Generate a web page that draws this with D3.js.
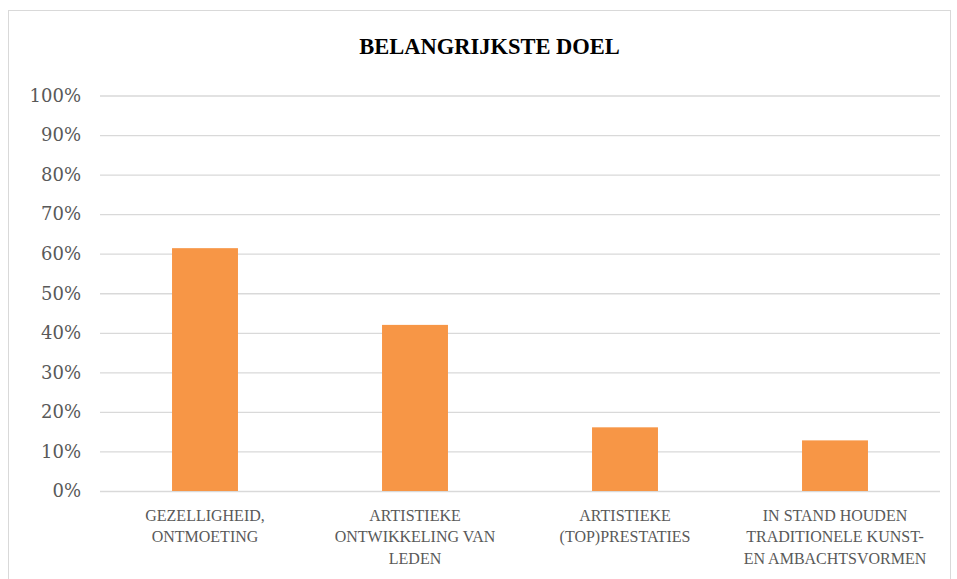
<!DOCTYPE html>
<html>
<head>
<meta charset="utf-8">
<script src="https://cdn.jsdelivr.net/npm/d3@7"></script>
<style>
  body { margin: 0; background: #fff; }
  svg { display: block; }
</style>
</head>
<body>
<div id="chart"></div>
<script>
(function () {
    // data
    const categories = [
        "GEZELLIGHEID,\nONTMOETING",
        "ARTISTIEKE\nONTWIKKELING VAN\nLEDEN",
        "ARTISTIEKE\n(TOP)PRESTATIES",
        "IN STAND HOUDEN\nTRADITIONELE KUNST-\nEN AMBACHTSVORMEN"
    ];
    const values = [0.614, 0.42, 0.161, 0.128];
    const yTicks = [0, 0.1, 0.2, 0.3, 0.4, 0.5, 0.6, 0.7, 0.8, 0.9, 1.0];
    const title = "BELANGRIJKSTE DOEL";

    const W = 957, H = 579;
    const margin = { top: 95.5, right: 17, bottom: 88, left: 100 },
        width = W - margin.left - margin.right,
        height = H - margin.top - margin.bottom;

    const root = d3.select("#chart")
        .append("svg")
        .attr("width", W)
        .attr("height", H);

    // outer chart frame
    root.append("rect")
        .attr("x", 8.5).attr("y", 10.5)
        .attr("width", 942).attr("height", 590)
        .attr("fill", "none")
        .attr("stroke", "#d9d9d9");

    root.append("text")
        .attr("x", 489.5).attr("y", 53.5)
        .attr("text-anchor", "middle")
        .style("font-family", "'Liberation Serif', serif")
        .style("font-weight", "bold")
        .style("font-size", "22.5px")
        .attr("fill", "#000")
        .text(title);

    const svg = root.append("g")
        .attr("transform", `translate(${margin.left},${margin.top})`);

    const x = d3.scaleBand()
        .domain(categories)
        .range([0, width])
        .paddingInner(0.686)
        .paddingOuter(0.343);

    const y = d3.scaleLinear()
        .domain([0, 1])
        .range([height, 0]);

    // gridlines + y labels
    const yAxis = svg.append("g")
        .call(d3.axisLeft(y).tickValues(yTicks).tickFormat(d3.format(".0%")).tickSize(-width).tickPadding(19));
    yAxis.select(".domain").remove();
    yAxis.selectAll(".tick line").attr("stroke", "#d9d9d9").attr("stroke-width", 1.3);
    yAxis.selectAll(".tick text")
        .attr("fill", "#595959")
        .style("font-family", "'DejaVu Serif', serif")
        .style("font-size", "18px");

    // bars
    svg.append("g")
        .selectAll("rect")
        .data(values)
        .join("rect")
        .attr("x", (d, i) => x(categories[i]))
        .attr("y", d => y(d))
        .attr("width", x.bandwidth())
        .attr("height", d => height - y(d))
        .attr("fill", "#f79646");

    // x labels, multi-line
    const xAxis = svg.append("g")
        .attr("transform", `translate(0,${height})`)
        .call(d3.axisBottom(x).tickSize(0).tickFormat(""));
    xAxis.select(".domain").remove();
    xAxis.selectAll(".tick").each(function (d) {
        const t = d3.select(this).append("text")
            .attr("fill", "#595959")
            .attr("text-anchor", "middle")
            .style("font-family", "'Liberation Serif', serif")
            .style("font-size", "16px");
        d.split("\n").forEach((line, k) => {
            t.append("tspan").attr("x", 0).attr("y", 30 + k * 21.3).text(line);
        });
    });
})();
</script>
</body>
</html>
